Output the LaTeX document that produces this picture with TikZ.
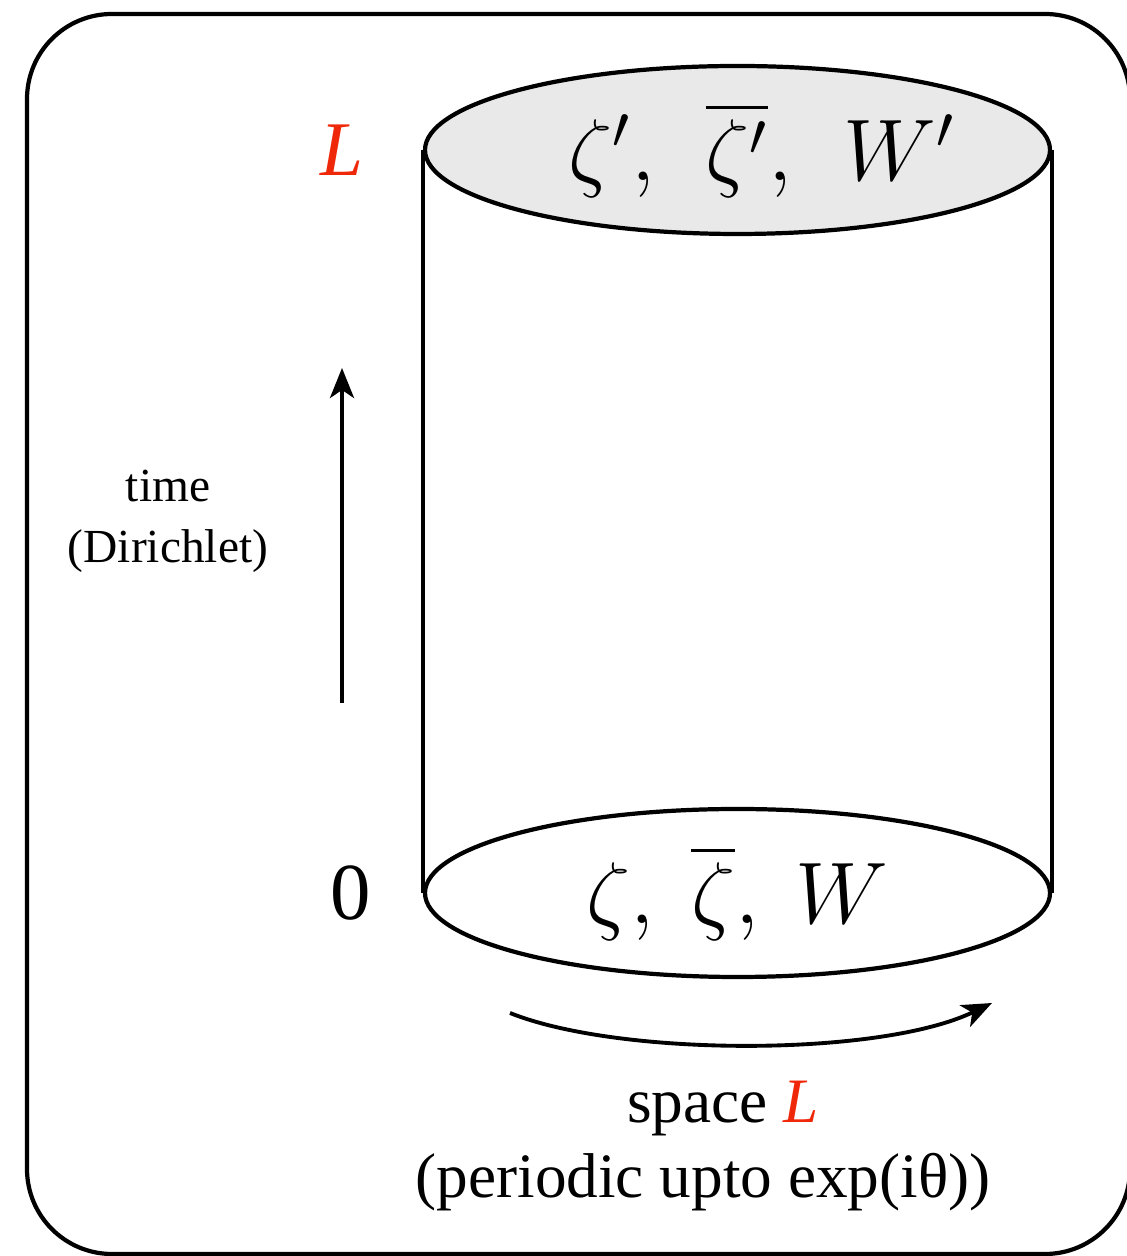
\documentclass[tikz,border=0pt]{standalone}
\usepackage{fontspec}
\setmainfont{Liberation Serif}
\usepackage{amsmath}
\usetikzlibrary{positioning,arrows.meta,shapes.geometric}
\definecolor{lred}{RGB}{240,40,10}
\definecolor{lidgray}{RGB}{233,233,233}

\begin{document}
\begin{tikzpicture}[
  lid/.style={ellipse, draw, line width=1.2pt, minimum width=6.25cm, minimum height=1.68cm, inner sep=0pt, font=\fontsize{25}{30}\selectfont},
  side/.style={line width=1pt},
  arr/.style={line width=1.1pt, -{Stealth[length=3mm, width=2.4mm, inset=0.8mm]}},
  every node/.style={font=\fontsize{13.5}{17.3}\selectfont}
]
\useasboundingbox (0,0) rectangle (11.26,12.56);
\draw[line width=1.2pt, rounded corners=0.85cm] (0.27,0.02) rectangle (11.30,12.42);
% Cylinder
\node[lid, fill=lidgray] (top) at (7.375,11.06)
  {\makebox[0pt]{\hspace{0.48cm}\raisebox{0.1cm}{$\zeta',\,\ \overline{\zeta'},\,\ W'$}}};
\node[lid, fill=white] (bot) at (7.375,3.63)
  {\makebox[0pt]{\raisebox{0.07cm}{$\zeta,\ \overline{\zeta},\ W$}}};
\draw[side] (top.west) -- (bot.west);
\draw[side] (top.east) -- (bot.east);
\node[left=0.47cm of top.west, text=lred, font=\fontsize{22}{26}\selectfont\itshape] (lenL) {L};
\node[left=0.40cm of bot.west, font=\fontsize{23}{28}\selectfont] (zero) {0};
% Time direction
\coordinate (tlo) at (3.42,5.53);
\coordinate (thi) at (3.42,8.88);
\draw[arr] (tlo) -- (thi);
\node[align=center] (tlab) at (1.68,7.35) {time\\(Dirichlet)};
% Space direction
\coordinate (slo) at (5.10,2.43);
\coordinate (shi) at (9.92,2.53);
\draw[arr] (slo) .. controls (6.2,1.99) and (8.8,1.99) .. (shi);
\node[align=center, font=\fontsize{18}{21.6}\selectfont] (slab) at (7.03,1.10)
  {\hspace{0.4cm}space {\color{lred}\itshape L}\\(periodic upto exp(iθ))};
\end{tikzpicture}
\end{document}
